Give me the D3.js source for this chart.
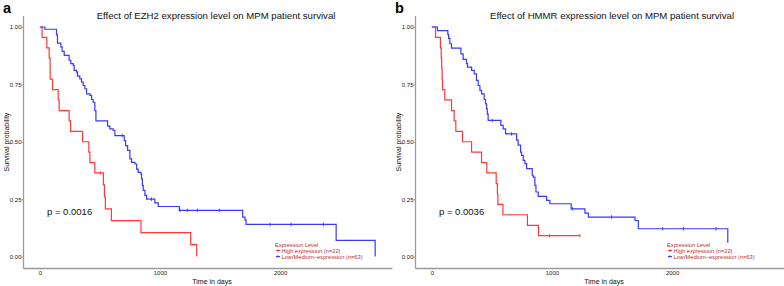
<!DOCTYPE html>
<html lang="en">
<head>
<meta charset="UTF-8">
<title>KM curves</title>
<script src="https://d3js.org/d3.v7.min.js"></script>
<style>
  body { margin: 0; background: #fff; }
  text { font-family: "Liberation Sans", Arial, sans-serif; }
</style>
</head>
<body>
<script>
// ---- data ----
// panel a : EZH2
var ezh2HighTime = [0, 19, 58, 78, 86, 106, 153, 161, 244, 256, 356, 408, 417, 458, 529, 538, 546, 596, 842, 1256, 1306];
var ezh2HighSurv = [1, 0.955, 0.909, 0.864, 0.773, 0.727, 0.682, 0.636, 0.591, 0.545, 0.5, 0.455, 0.409, 0.364, 0.312, 0.26, 0.208, 0.156, 0.104, 0.052, 0];
var ezh2HighCensTime = [506];
var ezh2HighCensSurv = [0.364];

var ezh2LowTime = [0, 42, 139, 147, 175, 186, 203, 244, 258, 278, 286, 306, 314, 333, 347, 361, 375, 389, 417, 431, 444, 458, 467, 564, 583, 611, 625, 703, 714, 731, 750, 764, 792, 806, 819, 842, 847, 854, 861, 875, 889, 958, 986, 1161, 1689, 1708, 1717, 2467, 2792];
var ezh2LowSurv = [1, 0.99, 0.966, 0.93, 0.913, 0.894, 0.876, 0.855, 0.84, 0.833, 0.811, 0.803, 0.786, 0.774, 0.76, 0.745, 0.731, 0.709, 0.702, 0.684, 0.672, 0.636, 0.591, 0.568, 0.556, 0.549, 0.527, 0.505, 0.483, 0.462, 0.425, 0.41, 0.403, 0.381, 0.367, 0.359, 0.338, 0.31, 0.288, 0.266, 0.25, 0.234, 0.218, 0.201, 0.172, 0.16, 0.14, 0.07, 0];
var ezh2LowCensTime = [686, 930, 1167, 1228, 1311, 1494, 1917, 2092, 2361];
var ezh2LowCensSurv = [0.527, 0.25, 0.201, 0.201, 0.201, 0.201, 0.14, 0.14, 0.14];

// panel b : HMMR
var hmmrHighTime = [0, 31, 72, 78, 82, 86, 89, 108, 164, 186, 200, 256, 331, 414, 458, 536, 546, 550, 592, 796, 888, 1233];
var hmmrHighSurv = [1, 0.955, 0.909, 0.864, 0.818, 0.773, 0.727, 0.682, 0.636, 0.591, 0.545, 0.5, 0.455, 0.409, 0.364, 0.318, 0.273, 0.227, 0.182, 0.136, 0.091, 0.091];
var hmmrHighCensTime = [981, 1233];
var hmmrHighCensSurv = [0.091, 0.091];

var hmmrLowTime = [0, 47, 133, 140, 150, 164, 242, 261, 289, 297, 331, 353, 372, 386, 400, 414, 436, 447, 456, 462, 469, 575, 594, 614, 706, 719, 739, 747, 761, 775, 789, 836, 844, 858, 867, 886, 956, 983, 1160, 1275, 1303, 1692, 1719, 2464, 2464];
var hmmrLowSurv = [1, 0.984, 0.968, 0.95, 0.927, 0.908, 0.883, 0.859, 0.84, 0.825, 0.811, 0.796, 0.767, 0.745, 0.724, 0.709, 0.684, 0.665, 0.643, 0.62, 0.593, 0.571, 0.556, 0.534, 0.507, 0.485, 0.455, 0.441, 0.419, 0.405, 0.383, 0.354, 0.346, 0.31, 0.281, 0.262, 0.245, 0.23, 0.208, 0.189, 0.172, 0.157, 0.121, 0.06, 0.06];
var hmmrLowCensTime = [503, 664, 1170, 1497, 1922, 2094, 2367];
var hmmrLowCensSurv = [0.593, 0.534, 0.208, 0.172, 0.121, 0.121, 0.121];

var yTicks = [0, 0.25, 0.5, 0.75, 1];
var xTicks = [0, 1000, 2000];
var legendLabels = ["High expression (n=22)", "Low/Medium\u2013expression (n=63)"];

var panels = [
  { tag: "a", title: "Effect of EZH2 expression level on MPM patient survival", p: "p = 0.0016",
    high: [ezh2HighTime, ezh2HighSurv, ezh2HighCensTime, ezh2HighCensSurv],
    low: [ezh2LowTime, ezh2LowSurv, ezh2LowCensTime, ezh2LowCensSurv] },
  { tag: "b", title: "Effect of HMMR expression level on MPM patient survival", p: "p = 0.0036",
    high: [hmmrHighTime, hmmrHighSurv, hmmrHighCensTime, hmmrHighCensSurv],
    low: [hmmrLowTime, hmmrLowSurv, hmmrLowCensTime, hmmrLowCensSurv] }
];

var width = 784, height = 286;
var red = "#ff3838", blue = "#3838ff", legendText = "#b5302a";

var svg = d3.select('body').append('svg').attr('width', width).attr('height', height);

var x = d3.scaleLinear().domain([-140, 2932]).range([23, 392]);
var y = d3.scaleLinear().domain([-0.05, 1.05]).range([268, 15.5]);

var line = d3.line()
  .x(function (d) { return x(d[0]); })
  .y(function (d) { return y(d[1]); })
  .curve(d3.curveStepAfter);

panels.forEach(function (p, i) {
  var g = svg.append('g').attr('transform', 'translate(' + (i * 392) + ',0)');

  // panel letter
  g.append('text').attr('x', 3).attr('y', 13).attr('font-size', 14.5).attr('font-weight', 'bold').text(p.tag);

  // title
  g.append('text').attr('x', 216 + i * 4).attr('y', 19).attr('text-anchor', 'middle')
    .attr('font-size', 9.6).attr('fill', '#111').text(p.title);

  // axes
  var ya = g.append('g').attr('transform', 'translate(23,0)')
    .call(d3.axisLeft(y).tickValues(yTicks).tickFormat(d3.format('.2f')).tickSize(1.5).tickSizeOuter(0));
  var xa = g.append('g').attr('transform', 'translate(0,268)')
    .call(d3.axisBottom(x).tickValues(xTicks).tickFormat(d3.format('d')).tickSize(1.5).tickSizeOuter(0));
  [ya, xa].forEach(function (a) {
    a.select('.domain').attr('stroke', '#9a9a9a').attr('stroke-width', 1.3);
    a.selectAll('.tick line').attr('stroke', '#9a9a9a');
    a.selectAll('.tick text').attr('font-size', 6).attr('fill', '#222')
      .attr('font-family', '"Liberation Sans", Arial, sans-serif');
  });
  ya.selectAll('.tick text').attr('x', -1.5);
  xa.selectAll('.tick text').attr('y', 3);

  // axis titles
  g.append('text').attr('transform', 'translate(9,142) rotate(-90)').attr('text-anchor', 'middle')
    .attr('font-size', 7).attr('fill', '#111').text('Survival probability');
  g.append('text').attr('x', 212).attr('y', 284).attr('text-anchor', 'middle')
    .attr('font-size', 7).attr('fill', '#111').text('Time in days');

  // curves
  [[p.high, red], [p.low, blue]].forEach(function (s) {
    var d = s[0];
    var pts = d[0].map(function (t, k) { return [t, d[1][k]]; });
    g.append('path').datum(pts).attr('d', line).attr('fill', 'none')
      .attr('stroke', s[1]).attr('stroke-width', 1.2);
    var cens = d[2].map(function (t, k) { return [t, d[3][k]]; });
    g.selectAll(null).data(cens).join('line')
      .attr('x1', function (c) { return x(c[0]); }).attr('x2', function (c) { return x(c[0]); })
      .attr('y1', function (c) { return y(c[1]) - 1.8; }).attr('y2', function (c) { return y(c[1]) + 1.8; })
      .attr('stroke', s[1]).attr('stroke-width', 0.9);
  });

  // p value
  g.append('text').attr('x', 47).attr('y', 215).attr('font-size', 9.5).attr('fill', '#111').text(p.p);

  // legend
  var lg = g.append('g').attr('transform', 'translate(275,0)');
  lg.append('text').attr('x', 0).attr('y', 246.5).attr('font-size', 5.7).attr('fill', legendText).text('Expression Level');
  [red, blue].forEach(function (c, k) {
    var yy = 250.5 + k * 6;
    lg.append('line').attr('x1', 1).attr('x2', 5).attr('y1', yy).attr('y2', yy).attr('stroke', c).attr('stroke-width', 1);
    lg.append('line').attr('x1', 3).attr('x2', 3).attr('y1', yy - 1.3).attr('y2', yy + 1.3).attr('stroke', c).attr('stroke-width', 0.8);
    lg.append('text').attr('x', 6.5).attr('y', yy + 2).attr('font-size', 5.7).attr('fill', legendText).text(legendLabels[k]);
  });
});
</script>
</body>
</html>
